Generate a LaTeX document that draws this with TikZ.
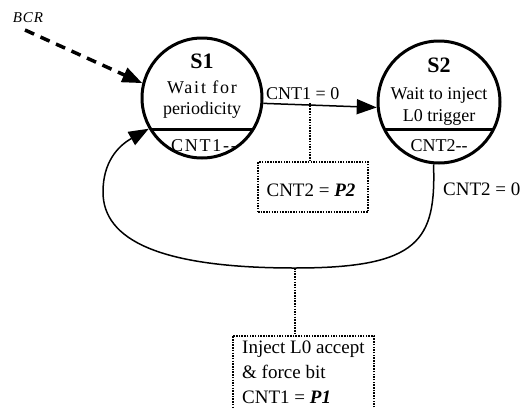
\documentclass[tikz,border=0pt]{standalone}
\usepackage{fontspec}
\setmainfont{Liberation Serif}
\newfontfamily\widefont[LetterSpace=10]{Liberation Serif}
\newfontfamily\bcrfont[LetterSpace=6]{Liberation Serif}
\usetikzlibrary{arrows.meta}
\tikzset{
  state/.style={circle, draw, line width=3pt, minimum size=120pt, inner sep=0pt},
  txt/.style={inner sep=0pt, font=\fontsize{19}{22}\selectfont},
  ctxt/.style={inner sep=0pt, font=\fontsize{18}{22}\selectfont},
  wtxt/.style={inner sep=0pt, font=\fontsize{18}{22}\widefont},
  head/.style={inner sep=0pt, font=\fontsize{22}{24}\selectfont\bfseries},
  conn/.style={line width=1.5pt, -{Triangle[length=20pt,width=15pt]}},
  dotline/.style={line width=1.5pt, dash pattern=on 1.5pt off 1.2pt},
  dotbox/.style={draw, line width=1.5pt, dash pattern=on 1.5pt off 1.2pt, inner sep=0pt}
}
\begin{document}
\begin{tikzpicture}[x=1pt,y=-1pt]
\useasboundingbox (0,0) rectangle (520,408);
\clip (0,0) rectangle (520,408);
% states
\node[state] (s1) at (202,98) {};
\node[state, minimum size=122pt] (s2) at (439,102) {};
\begin{scope}
\clip (202,98) circle (60);
\draw[line width=3pt] (130,129) -- (280,129);
\end{scope}
\begin{scope}
\clip (439,102) circle (61);
\draw[line width=3pt] (370,129) -- (510,129);
\end{scope}
\node[head] (s1h) at (202,61) {S1};
\node[wtxt] (s1a) at (202,87) {Wait for};
\node[ctxt] (s1b) at (202,110) {periodicity};
\node[wtxt] (s1c) at (204,146) {CNT1{-}{-}};
\node[head] (s2h) at (439,65) {S2};
\node[ctxt] (s2a) at (439,95) {Wait to inject};
\node[ctxt] (s2b) at (439,117) {L0 trigger};
\node[ctxt] (s2c) at (439,146) {CNT2{-}{-}};
% BCR
\node[txt, font=\fontsize{15}{17}\bcrfont\itshape] (bcr) at (28,18) {BCR};
\coordinate (bcrs) at (25,30);
\draw[line width=3.5pt, dash pattern=on 10pt off 7pt, -{Triangle[length=20pt,width=15pt]}] (bcrs) -- (s1.166);
% CNT1 = 0 transition
\draw[conn] (s1.-5) -- (s2.185);
\node[txt, anchor=south west, font=\fontsize{18}{22}\selectfont] (c10) at (266,100) {CNT1 = 0};
\coordinate (d1) at (310,103);
\node[dotbox, minimum width=110pt, minimum height=50pt] (p2) at (313,187) {};
\node[txt] (p2t) at (311,190) {CNT2 = \textbf{\textit{P2}}};
\draw[dotline] (d1) -- (p2.north -| d1);
% loop
\coordinate (lb) at (295,268);
\coordinate (lc) at (103,192);
\draw[conn] (s2.-95) .. controls (436,240) and (420,268) .. (lb)
  .. controls (160,268) and (103,240) .. (lc)
  .. controls (103,162) and (118,146) .. (s1.210);
\node[txt, anchor=west] (c20) at (443,189) {CNT2 = 0};
\node[dotbox, minimum width=141pt, minimum height=90pt, anchor=north west] (p1) at (232,335) {};
\draw[dotline] (lb) -- (p1.north -| lb);
\node[txt, anchor=north west, align=left, font=\fontsize{19}{25}\selectfont] (p1t) at (242,341) {Inject L0 accept\\\& force bit\\CNT1 = \textbf{\textit{P1}}};
\end{tikzpicture}
\end{document}
